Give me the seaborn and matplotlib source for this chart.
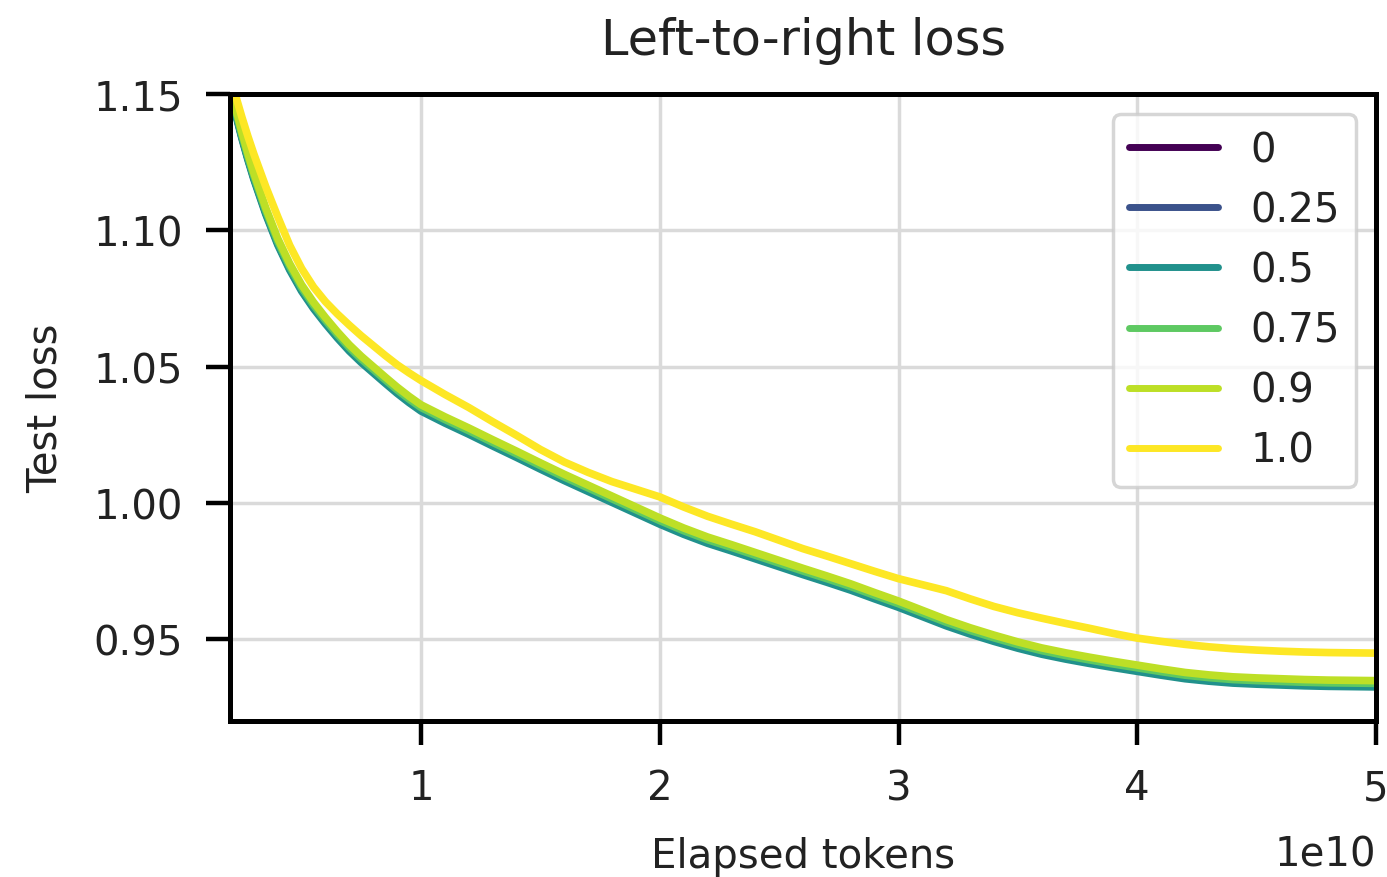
import numpy as np
import pandas as pd
import matplotlib
matplotlib.use("Agg")
import matplotlib.pyplot as plt
import seaborn as sns

# ---- data (x in units of 1e10 tokens) ----
tokens_e10 = [0.2, 0.225, 0.25, 0.275, 0.3, 0.35, 0.4, 0.45, 0.5, 0.55,
              0.6, 0.65, 0.7, 0.75, 0.8, 0.85, 0.9, 0.95, 1.0,
              1.1, 1.2, 1.3, 1.4, 1.5, 1.6, 1.7, 1.8, 1.9, 2.0,
              2.1, 2.2, 2.3, 2.4, 2.5, 2.6, 2.7, 2.8, 2.9, 3.0,
              3.1, 3.2, 3.3, 3.4, 3.5, 3.6, 3.7, 3.8, 3.9, 4.0,
              4.1, 4.2, 4.3, 4.4, 4.5, 4.6, 4.7, 4.8, 4.9, 5.0]

loss_0 = [1.1522, 1.1427, 1.1342, 1.1264, 1.1192, 1.1064, 1.0952, 1.0860, 1.0782, 1.0718,
          1.0662, 1.0610, 1.0562, 1.0520, 1.0482, 1.0444, 1.0407, 1.0373, 1.0342,
          1.0298, 1.0257, 1.0214, 1.0172, 1.0129, 1.0087, 1.0047, 1.0007, 0.9967, 0.9927,
          0.9890, 0.9857, 0.9829, 0.9800, 0.9771, 0.9742, 0.9714, 0.9685, 0.9653, 0.9622,
          0.9588, 0.9554, 0.9524, 0.9497, 0.9472, 0.9450, 0.9432, 0.9416, 0.9401, 0.9387,
          0.9373, 0.9360, 0.9351, 0.9344, 0.9340, 0.9337, 0.9334, 0.9332, 0.9331, 0.9330]
loss_025 = [1.1525, 1.1430, 1.1345, 1.1267, 1.1195, 1.1067, 1.0955, 1.0863, 1.0785, 1.0721,
            1.0665, 1.0613, 1.0565, 1.0523, 1.0485, 1.0447, 1.0410, 1.0376, 1.0345,
            1.0301, 1.0260, 1.0217, 1.0175, 1.0132, 1.0090, 1.0050, 1.0010, 0.9970, 0.9930,
            0.9893, 0.9860, 0.9832, 0.9803, 0.9774, 0.9745, 0.9717, 0.9688, 0.9656, 0.9625,
            0.9591, 0.9557, 0.9527, 0.9500, 0.9475, 0.9453, 0.9435, 0.9419, 0.9404, 0.9390,
            0.9376, 0.9363, 0.9354, 0.9347, 0.9343, 0.9340, 0.9337, 0.9335, 0.9334, 0.9333]
loss_05 = [1.1517, 1.1422, 1.1337, 1.1259, 1.1187, 1.1059, 1.0947, 1.0855, 1.0777, 1.0713,
           1.0657, 1.0605, 1.0557, 1.0515, 1.0477, 1.0439, 1.0402, 1.0368, 1.0337,
           1.0293, 1.0252, 1.0209, 1.0167, 1.0124, 1.0082, 1.0042, 1.0002, 0.9962, 0.9922,
           0.9885, 0.9852, 0.9824, 0.9795, 0.9766, 0.9737, 0.9709, 0.9680, 0.9648, 0.9617,
           0.9583, 0.9549, 0.9519, 0.9492, 0.9467, 0.9445, 0.9427, 0.9411, 0.9396, 0.9382,
           0.9368, 0.9355, 0.9346, 0.9339, 0.9335, 0.9332, 0.9329, 0.9327, 0.9326, 0.9325]
loss_075 = [1.1530, 1.1435, 1.1350, 1.1272, 1.1200, 1.1072, 1.0960, 1.0868, 1.0790, 1.0726,
            1.0670, 1.0618, 1.0570, 1.0528, 1.0490, 1.0452, 1.0415, 1.0381, 1.0350,
            1.0306, 1.0265, 1.0222, 1.0180, 1.0137, 1.0095, 1.0055, 1.0015, 0.9975, 0.9935,
            0.9898, 0.9865, 0.9837, 0.9808, 0.9779, 0.9750, 0.9722, 0.9693, 0.9661, 0.9630,
            0.9596, 0.9562, 0.9532, 0.9505, 0.9480, 0.9458, 0.9440, 0.9424, 0.9409, 0.9395,
            0.9381, 0.9368, 0.9359, 0.9352, 0.9348, 0.9345, 0.9342, 0.9340, 0.9339, 0.9338]
loss_09 = [1.1540, 1.1445, 1.1360, 1.1282, 1.1210, 1.1082, 1.0970, 1.0878, 1.0800, 1.0736,
           1.0680, 1.0628, 1.0580, 1.0538, 1.0500, 1.0462, 1.0425, 1.0391, 1.0360,
           1.0316, 1.0275, 1.0232, 1.0190, 1.0147, 1.0105, 1.0065, 1.0025, 0.9985, 0.9945,
           0.9908, 0.9875, 0.9847, 0.9818, 0.9789, 0.9760, 0.9732, 0.9703, 0.9671, 0.9640,
           0.9606, 0.9572, 0.9542, 0.9515, 0.9490, 0.9468, 0.9450, 0.9434, 0.9419, 0.9405,
           0.9391, 0.9378, 0.9369, 0.9362, 0.9358, 0.9355, 0.9352, 0.9350, 0.9349, 0.9348]
loss_10 = [1.1580, 1.1490, 1.1415, 1.1345, 1.1280, 1.1160, 1.1050, 1.0945, 1.0860, 1.0792,
           1.0738, 1.0693, 1.0652, 1.0613, 1.0577, 1.0541, 1.0507, 1.0477, 1.0449,
           1.0398, 1.0350, 1.0298, 1.0248, 1.0196, 1.0150, 1.0112, 1.0078, 1.0050, 1.0022,
           0.9985, 0.9951, 0.9922, 0.9894, 0.9863, 0.9832, 0.9805, 0.9777, 0.9749, 0.9722,
           0.9700, 0.9678, 0.9648, 0.9620, 0.9597, 0.9577, 0.9558, 0.9540, 0.9521, 0.9504,
           0.9492, 0.9481, 0.9472, 0.9465, 0.9460, 0.9456, 0.9453, 0.9451, 0.9450, 0.9449]

labels = ["0", "0.25", "0.5", "0.75", "0.9", "1.0"]
hue_values = [0.0, 0.25, 0.5, 0.75, 0.9, 1.0]
series = [loss_0, loss_025, loss_05, loss_075, loss_09, loss_10]

frames = []
for lab, ys in zip(labels, series):
    frames.append(pd.DataFrame({"tokens": np.array(tokens_e10) * 1e10,
                                "loss": ys, "weight": lab}))
df = pd.concat(frames, ignore_index=True)

sns.set_theme(style="ticks")
plt.rcParams['font.family'] = ['DejaVu Sans']

fig, ax = plt.subplots(figsize=(13.87, 8.78), dpi=100)
fig.subplots_adjust(left=0.1658, right=0.9921, bottom=0.1777, top=0.8918)

cmap = plt.get_cmap("viridis")
palette = {lab: cmap(v) for lab, v in zip(labels, hue_values)}

sns.lineplot(data=df, x="tokens", y="loss", hue="weight", hue_order=labels,
             palette=palette, estimator=None, sort=False, linewidth=5.5, ax=ax)

ax.set_xlim(0.2e10, 5e10)
ax.set_ylim(0.92, 1.15)
ax.set_yticks([0.95, 1.00, 1.05, 1.10, 1.15])
ax.set_xticks([1e10, 2e10, 3e10, 4e10, 5e10])

ax.grid(True, color="#dadada", linewidth=2.5)
ax.set_axisbelow(True)
for sp in ax.spines.values():
    sp.set_linewidth(3.6)
    sp.set_color("black")

ax.tick_params(axis="both", length=17, width=3.2, labelsize=29, color="black",
               labelcolor="#222222")
ax.tick_params(axis="y", pad=17)
ax.tick_params(axis="x", pad=17)
ax.xaxis.get_offset_text().set_fontsize(29)
ax.xaxis.get_offset_text().set_color("#222222")
ax.xaxis.OFFSETTEXTPAD = 19

ax.set_xlabel("Elapsed tokens", fontsize=29, labelpad=20, color="#222222")
ax.set_ylabel("Test loss", fontsize=29, labelpad=20, color="#222222")
ax.set_title("Left-to-right loss", fontsize=35.5, pad=29, color="#222222")

handles, _ = ax.get_legend_handles_labels()
leg = ax.legend(handles=handles, labels=labels, loc="upper right", fontsize=29,
                handlelength=2.2, framealpha=0.8, edgecolor="#cccccc", fancybox=True)
leg.get_frame().set_linewidth(2.5)
for line in leg.get_lines():
    line.set_linewidth(5)
for t in leg.get_texts():
    t.set_color("#222222")

fig.savefig("out.png", dpi=100)
